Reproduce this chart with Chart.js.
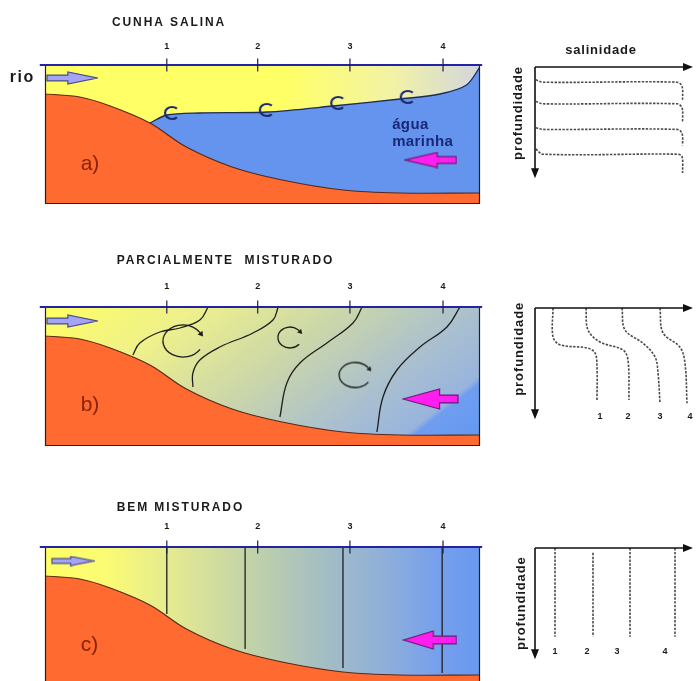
<!DOCTYPE html>
<html>
<head>
<meta charset="utf-8">
<script src="https://cdn.jsdelivr.net/npm/chart.js@4.4.0/dist/chart.umd.min.js"></script>
<style>
body { margin: 0; background: #fff; overflow: hidden; }
#wrap { position: relative; width: 696px; height: 681px; overflow: hidden; }
#wrap canvas { position: absolute; }
</style>
</head>
<body>
<div id="wrap">
  <canvas id="secA" width="490" height="215" style="left:0;top:0"></canvas>
  <canvas id="secB" width="490" height="215" style="left:0;top:242px"></canvas>
  <canvas id="secC" width="490" height="215" style="left:0;top:482px"></canvas>
  <canvas id="proA" width="206" height="200" style="left:490px;top:0"></canvas>
  <canvas id="proB" width="206" height="200" style="left:490px;top:241px"></canvas>
  <canvas id="proC" width="206" height="200" style="left:490px;top:481px"></canvas>
</div>
<script>
// ---- data: cross sections (x = distance 0-100, y = depth 0-13.9) ----
const stations = [28, 48.9, 70.1, 91.5];
const stationLabels = ['1', '2', '3', '4'];

const seabedX = [0, 8, 15, 24.1, 32.5, 43, 54.5, 68.5, 81.5, 100];
const seabedDepth = [2.9, 3.2, 4.1, 5.8, 8.2, 10.2, 11.5, 12.5, 12.8, 12.8];

// a) salt wedge interface
const wedgeX = [24.1, 28, 35.6, 51, 66.2, 81.6, 90.8, 96.9, 100];
const wedgeDepth = [5.8, 5.0, 4.8, 4.7, 4.1, 3.4, 2.9, 2.0, 0.2];
const eddyAX = [29.2, 51, 67.4, 83.4];
const eddyADepth = [4.8, 4.5, 3.8, 3.2];

// b) isohalines, partially mixed
const isoB1X = [37.5, 35.6, 31, 26.4, 21.8, 20.2];
const isoB1D = [0, 1.3, 2.1, 2.5, 3.6, 4.8];
const isoB2X = [53.6, 52.4, 47.8, 40.2, 35.6, 34, 34];
const isoB2D = [0, 1.3, 2.6, 4.0, 5.3, 6.6, 8.0];
const isoB3X = [72.9, 70.8, 64.8, 58.6, 55.6, 54];
const isoB3D = [0, 1.6, 3.6, 5.6, 7.6, 11];
const isoB4X = [95.4, 92.4, 86.2, 80.9, 77.7, 76.3];
const isoB4D = [0, 2.0, 4.0, 6.3, 9.0, 12.5];
const eddyBX = [31.7, 56.3, 71.3];
const eddyBDepth = [3.4, 3.05, 6.8];

// c) well mixed, vertical isohalines
const isoCX = [28, 46, 68.5, 91.3];
const isoCBottom = [6.7, 10.2, 12.1, 12.6];

// flows: river (in) and sea water (in from the ocean side)
const riverX = [6.2, 6.2, 6.4];
const riverDepth = [1.3, 1.4, 1.4];
const seaX = [88.7, 88.6, 88.5];
const seaDepth = [9.5, 9.2, 9.3];

// ---- data: salinity profiles (x = salinity 0-40, y = depth 0-14) ----
const profA = [
  { s: [0.2, 2, 35.5, 36.75, 36.9], d: [1.6, 1.9, 1.9, 2.4, 4.1] },
  { s: [0.2, 2, 35.5, 36.75, 36.9], d: [4.3, 4.6, 4.6, 5.1, 6.8] },
  { s: [0.2, 2, 35.5, 36.75, 36.9], d: [7.6, 7.8, 7.8, 8.3, 9.8] },
  { s: [0.2, 2, 35.5, 36.75, 36.9], d: [10.25, 10.9, 10.9, 11.2, 13.25] }
];
const profB = [
  { s: [4.5, 4.5, 6.25, 13, 15, 15.5, 15.5], d: [0, 3.6, 4.6, 5, 5.6, 7.4, 11.5] },
  { s: [12.75, 13.25, 16.25, 22, 23.25, 23.5], d: [0, 2.75, 4.25, 5.25, 6.5, 11.5] },
  { s: [21.75, 22.5, 27, 30, 30.75, 31.25], d: [0, 2.75, 4.4, 6.1, 8.1, 11.9] },
  { s: [31.25, 32, 36.25, 37.5, 38], d: [0, 3.1, 4.9, 6.9, 11.9] }
];
const profBLabelS = [16.25, 23.25, 31.25, 38.75];
const profC = [5, 14.5, 23.75, 35];
const profCTop = [0, 0.6, 0, 0];
const profCBottom = [11.1, 11.1, 11.1, 11.1];
const profCLabelS = [5, 13, 20.5, 32.5];

const toXY = (xs, ys) => xs.map((x, i) => ({ x: x, y: ys[i] }));

const FONT = '"Liberation Sans", Arial, sans-serif';
const ORANGE = '#ff6a30';
const SEA = '#6494ee';

// small canvases used as point styles
function arrowCanvas(w, h, headFrac, shaftFrac, dir, fill, stroke) {
  const c = document.createElement('canvas');
  c.width = w; c.height = h;
  const g = c.getContext('2d');
  if (dir < 0) g.setTransform(-1, 0, 0, 1, w, 0);
  const m = h / 2, sh = h * shaftFrac, hx = w * (1 - headFrac);
  g.beginPath();
  g.moveTo(1, m - sh / 2);
  g.lineTo(hx, m - sh / 2);
  g.lineTo(hx, 1);
  g.lineTo(w - 1, m);
  g.lineTo(hx, h - 1);
  g.lineTo(hx, m + sh / 2);
  g.lineTo(1, m + sh / 2);
  g.closePath();
  g.fillStyle = fill; g.fill();
  g.strokeStyle = stroke; g.lineWidth = 1.2; g.stroke();
  return c;
}

function eddyCanvas(rx, ry, gap, lw, head, color) {
  const pad = 6;
  const c = document.createElement('canvas');
  c.width = 2 * rx + 2 * pad; c.height = 2 * ry + 2 * pad;
  const g = c.getContext('2d');
  const cx = c.width / 2, cy = c.height / 2;
  g.strokeStyle = color; g.lineWidth = lw;
  g.beginPath();
  g.ellipse(cx, cy, rx, ry, 0, gap, 2 * Math.PI - gap);
  g.stroke();
  if (head > 0) {
    const t = 2 * Math.PI - gap;
    const ex = cx + rx * Math.cos(t), ey = cy + ry * Math.sin(t);
    let dx = -rx * Math.sin(t), dy = ry * Math.cos(t);
    const L = Math.hypot(dx, dy); dx /= L; dy /= L;
    g.fillStyle = color;
    g.beginPath();
    g.moveTo(ex + dx * head, ey + dy * head);
    g.lineTo(ex - dy * head * 0.6, ey + dx * head * 0.6);
    g.lineTo(ex + dy * head * 0.6, ey - dx * head * 0.6);
    g.closePath();
    g.fill();
  }
  return c;
}

const rioArrow = arrowCanvas(52, 14, 0.58, 0.42, 1, '#a3a5f4', '#4a4a8c');
const rioArrowSmall = arrowCanvas(44, 11, 0.55, 0.42, 1, '#a3a5f4', '#4a4a8c');
const seaArrows = [arrowCanvas(53, 17, 0.62, 0.4, -1, '#ff1ef0', '#6a1a70'),
                   arrowCanvas(57, 22, 0.66, 0.36, -1, '#ff1ef0', '#6a1a70'),
                   arrowCanvas(55, 20, 0.56, 0.38, -1, '#ff1ef0', '#6a1a70')];
const eddyA = eddyCanvas(7, 6, 0.8, 2.2, 0, '#1c2c70');
const eddyB = [eddyCanvas(20, 16, 0.55, 1.3, 5, '#1a1a1a'),
               eddyCanvas(12, 10.5, 0.7, 1.3, 4.5, '#1a1a1a'),
               eddyCanvas(16, 12.5, 0.6, 1.3, 4.5, '#1a1a1a')];

function drawText(ctx, x, y, t) {
  ctx.save();
  ctx.font = t.font;
  ctx.fillStyle = t.color || '#1a1a1a';
  ctx.textAlign = t.align || 'left';
  ctx.textBaseline = 'middle';
  ctx.letterSpacing = (t.spacing || 0) + 'px';
  ctx.translate(x, y);
  if (t.rotate) ctx.rotate(t.rotate);
  ctx.fillText(t.text, 0, 0);
  ctx.restore();
}

// background water, frame, surface, stations and labels of a section
const sectionDeco = {
  id: 'sectionDeco',
  beforeDatasetsDraw(chart, args, o) {
    const { ctx, chartArea: a } = chart;
    ctx.save();
    ctx.fillStyle = o.water(ctx, a);
    ctx.fillRect(a.left, a.top, a.width, a.height);
    ctx.restore();
  },
  afterDatasetsDraw(chart, args, o) {
    const { ctx, chartArea: a, scales: { x, y } } = chart;
    ctx.save();
    ctx.strokeStyle = '#2a201a';
    ctx.lineWidth = 1.2;
    ctx.beginPath();
    ctx.moveTo(a.left + 0.5, a.top);
    ctx.lineTo(a.left + 0.5, a.bottom - 0.5);
    ctx.lineTo(a.right - 0.5, a.bottom - 0.5);
    ctx.lineTo(a.right - 0.5, a.top);
    ctx.stroke();

    const y0 = y.getPixelForValue(0);
    ctx.strokeStyle = '#2323a6';
    ctx.lineWidth = 2.2;
    ctx.beginPath();
    ctx.moveTo(x.getPixelForValue(-1.2), y0);
    ctx.lineTo(x.getPixelForValue(100.5), y0);
    ctx.stroke();

    ctx.strokeStyle = '#1c1c50';
    ctx.lineWidth = 1.2;
    stations.forEach((s, i) => {
      const px = x.getPixelForValue(s);
      ctx.beginPath();
      ctx.moveTo(px, y.getPixelForValue(-0.65));
      ctx.lineTo(px, y.getPixelForValue(0.65));
      ctx.stroke();
      drawText(ctx, px, y.getPixelForValue(o.numDepth),
        { text: stationLabels[i], font: 'bold 9px ' + FONT, align: 'center' });
    });
    ctx.restore();
    o.texts.forEach(t => drawText(ctx, x.getPixelForValue(t.x), y.getPixelForValue(t.y), t));
  }
};

function sectionChart(id, datasets, deco) {
  return new Chart(document.getElementById(id), {
    type: 'scatter',
    data: { datasets: datasets },
    options: {
      responsive: false,
      animation: false,
      layout: { padding: { left: 45, right: 10, top: 65, bottom: 11 } },
      scales: {
        x: { type: 'linear', min: 0, max: 100, display: false },
        y: { type: 'linear', min: 0, max: 13.9, reverse: true, display: false }
      },
      plugins: { legend: { display: false }, tooltip: { enabled: false }, sectionDeco: deco }
    },
    plugins: [sectionDeco]
  });
}

function seabedSet() {
  return {
    label: 'fundo', data: toXY(seabedX, seabedDepth), showLine: true, tension: 0.35,
    borderColor: '#5a2814', borderWidth: 1.2, backgroundColor: ORANGE,
    fill: { value: 14 }, pointRadius: 0, order: 2
  };
}
function flowSet(i) {
  return {
    label: 'fluxos', data: [{ x: riverX[i], y: riverDepth[i] }, { x: seaX[i], y: seaDepth[i] }],
    pointStyle: [i === 2 ? rioArrowSmall : rioArrow, seaArrows[i]], pointRadius: 3, order: 0
  };
}
function isoSet(xs, ds) {
  return {
    data: toXY(xs, ds), showLine: true, tension: 0.4, borderColor: '#1e1e1e',
    borderWidth: 1.3, pointRadius: 0, fill: false, order: 3
  };
}
const panelLetter = (txt, d) => ({ text: txt, x: 8.2, y: d, font: '21px ' + FONT, color: '#8a2208' });

// a) cunha salina
sectionChart('secA', [
  flowSet(0),
  { label: 'vórtices', data: toXY(eddyAX, eddyADepth), pointStyle: eddyA, pointRadius: 3, order: 1 },
  seabedSet(),
  { label: 'haloclina', data: toXY(wedgeX, wedgeDepth), showLine: true, tension: 0.3,
    borderColor: '#1f2b50', borderWidth: 1.3, backgroundColor: SEA,
    fill: { value: 14 }, pointRadius: 0, order: 4 }
], {
  numDepth: -1.8,
  water: (ctx, a) => {
    const g = ctx.createLinearGradient(a.left, 0, a.right, 0);
    g.addColorStop(0, '#ffff66');
    g.addColorStop(0.55, '#ffff66');
    g.addColorStop(0.8, '#f2f2a6');
    g.addColorStop(1, '#d2d6de');
    return g;
  },
  texts: [
    { text: 'CUNHA SALINA', x: 15.4, y: -4.2, font: 'bold 12px ' + FONT, spacing: 1.9 },
    { text: 'rio', x: -8.1, y: 1.3, font: 'bold 16px ' + FONT, spacing: 1.5 },
    panelLetter('a)', 9.9),
    { text: 'água', x: 79.8, y: 6.0, font: 'bold 15px ' + FONT, color: '#1a2878', spacing: 0.4 },
    { text: 'marinha', x: 79.8, y: 7.7, font: 'bold 15px ' + FONT, color: '#1a2878', spacing: 0.4 }
  ]
});

// b) parcialmente misturado
sectionChart('secB', [
  flowSet(1),
  { label: 'vórtices', data: toXY(eddyBX, eddyBDepth), pointStyle: eddyB, pointRadius: 3, order: 1 },
  seabedSet(),
  isoSet(isoB1X, isoB1D), isoSet(isoB2X, isoB2D), isoSet(isoB3X, isoB3D), isoSet(isoB4X, isoB4D)
], {
  numDepth: -2.0,
  water: (ctx, a) => {
    const g = ctx.createLinearGradient(a.left, a.top, a.left + 234, a.top + 297);
    g.addColorStop(0, '#ffff62');
    g.addColorStop(0.25, '#eef08c');
    g.addColorStop(0.5, '#cad6aa');
    g.addColorStop(0.72, '#a9bfd0');
    g.addColorStop(0.855, '#98b4de');
    g.addColorStop(0.87, '#6f9ef0');
    g.addColorStop(1, '#6196f2');
    return g;
  },
  texts: [
    { text: 'PARCIALMENTE  MISTURADO', x: 16.5, y: -4.6, font: 'bold 12px ' + FONT, spacing: 1.9 },
    panelLetter('b)', 9.8)
  ]
});

// c) bem misturado
sectionChart('secC', [
  flowSet(2),
  seabedSet(),
  ...isoCX.map((x, i) => isoSet([x, x], [0, isoCBottom[i]]))
], {
  numDepth: -2.0,
  water: (ctx, a) => {
    const g = ctx.createLinearGradient(a.left, 0, a.right, 0);
    g.addColorStop(0, '#ffff66');
    g.addColorStop(0.14, '#fbfb74');
    g.addColorStop(0.3, '#e2e992');
    g.addColorStop(0.47, '#c2d3a8');
    g.addColorStop(0.62, '#a7c0c0');
    g.addColorStop(0.78, '#8fafda');
    g.addColorStop(0.9, '#77a0ec');
    g.addColorStop(1, '#6898f0');
    return g;
  },
  texts: [
    { text: 'BEM MISTURADO', x: 16.5, y: -3.9, font: 'bold 12px ' + FONT, spacing: 1.9 },
    panelLetter('c)', 9.8)
  ]
});

// ---- salinity profiles ----
const profileDeco = {
  id: 'profileDeco',
  afterDatasetsDraw(chart, args, o) {
    const { ctx, scales: { x, y } } = chart;
    const ox = x.getPixelForValue(0), oy = y.getPixelForValue(0);
    const xe = x.getPixelForValue(39.5), ye = y.getPixelForValue(13.9);
    ctx.save();
    ctx.strokeStyle = '#111';
    ctx.fillStyle = '#111';
    ctx.lineWidth = 1.6;
    ctx.beginPath();
    ctx.moveTo(ox, oy); ctx.lineTo(xe - 6, oy);
    ctx.moveTo(ox, oy); ctx.lineTo(ox, ye - 6);
    ctx.stroke();
    ctx.beginPath();
    ctx.moveTo(xe, oy); ctx.lineTo(xe - 10, oy - 4); ctx.lineTo(xe - 10, oy + 4); ctx.closePath();
    ctx.moveTo(ox, ye); ctx.lineTo(ox - 4, ye - 10); ctx.lineTo(ox + 4, ye - 10); ctx.closePath();
    ctx.fill();
    ctx.restore();
    o.texts.forEach(t => drawText(ctx, x.getPixelForValue(t.x), y.getPixelForValue(t.y), t));
  }
};

function profileChart(id, datasets, texts) {
  return new Chart(document.getElementById(id), {
    type: 'scatter',
    data: { datasets: datasets },
    options: {
      responsive: false,
      animation: false,
      layout: { padding: { left: 45, right: 1, top: 67, bottom: 21 } },
      scales: {
        x: { type: 'linear', min: 0, max: 40, display: false },
        y: { type: 'linear', min: 0, max: 14, reverse: true, display: false }
      },
      plugins: { legend: { display: false }, tooltip: { enabled: false }, profileDeco: { texts: texts } }
    },
    plugins: [profileDeco]
  });
}

function dashSet(s, d) {
  return {
    data: toXY(s, d), showLine: true, tension: 0.35, borderColor: '#4a4a4a',
    borderWidth: 1.6, borderDash: [2.4, 1.4], pointRadius: 0, fill: false, clip: false
  };
}
const profLabel = (txt, s, d) => ({ text: txt, x: s, y: d, font: 'bold 9px ' + FONT, align: 'center' });
const depthLabel = (s, d) => ({ text: 'profundidade', x: s, y: d, font: 'bold 13px ' + FONT,
  align: 'center', spacing: 0.9, rotate: -Math.PI / 2 });

profileChart('proA', profA.map(p => dashSet(p.s, p.d)), [
  { text: 'salinidade', x: 16.5, y: -2.1, font: 'bold 13px ' + FONT, align: 'center', spacing: 0.8 },
  depthLabel(-4.25, 5.75)
]);

profileChart('proB', profB.map(p => dashSet(p.s, p.d)), [
  depthLabel(-4.0, 5.1),
  ...stationLabels.map((t, i) => profLabel(t, profBLabelS[i], 13.6))
]);

profileChart('proC', profC.map((s, i) => dashSet([s, s], [profCTop[i], profCBottom[i]])), [
  depthLabel(-3.5, 6.9),
  ...stationLabels.map((t, i) => profLabel(t, profCLabelS[i], 12.9))
]);
</script>
</body>
</html>
